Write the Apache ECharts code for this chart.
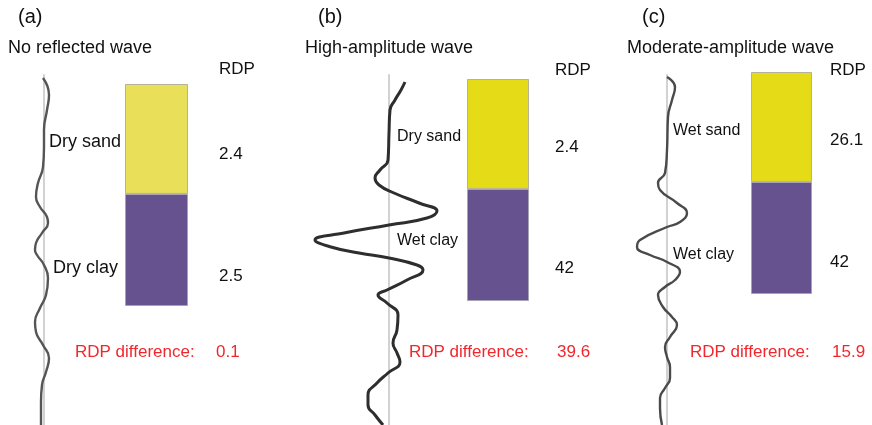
<!DOCTYPE html>
<html>
<head>
<meta charset="utf-8">
<script src="https://cdn.jsdelivr.net/npm/echarts@6/dist/echarts.min.js"></script>
<style>
html,body{margin:0;padding:0;background:#fff;}
#chart{width:872px;height:425px;}
</style>
</head>
<body>
<div id="chart"></div>
<script>
// ---- Data ----
var panelLetters = ['(a)', '(b)', '(c)'];
var panelTitles = ['No reflected wave', 'High-amplitude wave', 'Moderate-amplitude wave'];
var upperLayers = ['Dry sand', 'Dry sand', 'Wet sand'];
var lowerLayers = ['Dry clay', 'Wet clay', 'Wet clay'];
var upperRDP = ['2.4', '2.4', '26.1'];
var lowerRDP = ['2.5', '42', '42'];
var rdpDifference = ['0.1', '39.6', '15.9'];

// layer thickness (relative)
var sandThickness = [50, 50, 50];
var clayThickness = [51, 51, 51];

// Radar traces: two-way time (depth, relative units) and amplitude
var waveA_depth = [3, 20, 35, 55, 72, 92, 108, 122, 132, 142, 148, 158, 168, 175, 180, 190, 203, 220, 233, 247, 257, 270, 283, 297, 310, 327, 350];
var waveA_amp   = [-1, 5, 3, 0, 0, -1, -6, -8, -4, 3, 4, -2, -8, -9, -7, 0, 4, 2, -4, -9, -8, -1, 5, 2, -2, -3, -3];

var waveB_depth = [7, 15, 25, 35, 58, 85, 95, 103, 110, 118, 128, 136, 143, 150, 158, 165, 172, 178, 183, 190, 195, 205, 215, 220, 228, 240, 255, 268, 278, 287, 298, 308, 320, 330, 340, 350];
var waveB_amp   = [16, 12, 6, 1, 0, -1, -9, -14, -10, 5, 30, 48, 38, 0, -45, -74, -58, -30, 0, 28, 34, 18, -2, -11, -2, 9, 8, 4, 8, 11, -1, -12, -21, -21, -14, -6];

var waveC_depth = [2, 12, 25, 42, 75, 98, 108, 115, 128, 138, 147, 152, 165, 172, 180, 187, 197, 205, 212, 220, 232, 242, 250, 262, 272, 282, 292, 303, 313, 323, 333, 350];
var waveC_amp   = [0, 8, 5, 1, 0, -2, -9, -7, 10, 20, 13, 0, -27, -30, -17, 0, 13, 8, -2, -9, -4, 5, 10, 3, -2, 0, 3, 3, -2, -7, -7, -5];

// ---- Layout ----
var FONT = '"Liberation Sans", Arial, Helvetica, sans-serif';
var waveGrids = [
  {left: 4, width: 80, top: 75, height: 350, min: -40, max: 40, color: '#555', w: 2.4},
  {left: 309, width: 160, top: 75, height: 350, min: -80, max: 80, color: '#2e2e2e', w: 3},
  {left: 627, width: 80, top: 75, height: 350, min: -40, max: 40, color: '#4a4a4a', w: 2.4}
];
var barGrids = [
  {left: 125, width: 63, top: 84, height: 222, yellow: '#e9df58'},
  {left: 467, width: 62, top: 79, height: 222, yellow: '#e5dc17'},
  {left: 751, width: 61, top: 72, height: 222, yellow: '#e5dc17'}
];
var purple = '#66528f';
var waves = [[waveA_amp, waveA_depth], [waveB_amp, waveB_depth], [waveC_amp, waveC_depth]];

var grid = [], xAxis = [], yAxis = [], series = [];
for (var i = 0; i < 3; i++) {
  var g = waveGrids[i];
  grid.push({left: g.left, width: g.width, top: g.top, height: g.height, containLabel: false});
  xAxis.push({type: 'value', gridIndex: 2 * i, min: g.min, max: g.max, show: false});
  yAxis.push({type: 'value', gridIndex: 2 * i, min: 0, max: 350, inverse: true,
    axisLine: {show: true, onZero: true, lineStyle: {color: '#d2d2d2', width: 2}},
    axisTick: {show: false}, axisLabel: {show: false}, splitLine: {show: false}});
  var pts = waves[i][0].map(function (a, k) { return [a, waves[i][1][k]]; });
  series.push({type: 'line', xAxisIndex: 2 * i, yAxisIndex: 2 * i, data: pts, smooth: 0.5,
    showSymbol: false, lineStyle: {color: g.color, width: g.w}, silent: true});

  var b = barGrids[i];
  grid.push({left: b.left, width: b.width, top: b.top, height: b.height, containLabel: false});
  xAxis.push({type: 'category', gridIndex: 2 * i + 1, data: ['layers'], show: false});
  yAxis.push({type: 'value', gridIndex: 2 * i + 1, min: 0, max: sandThickness[i] + clayThickness[i], inverse: true, show: false});
  series.push({type: 'bar', xAxisIndex: 2 * i + 1, yAxisIndex: 2 * i + 1, stack: 's' + i, barWidth: '100%',
    data: [sandThickness[i]], itemStyle: {color: b.yellow, borderColor: '#b5b29a', borderWidth: 1}, silent: true});
  series.push({type: 'bar', xAxisIndex: 2 * i + 1, yAxisIndex: 2 * i + 1, stack: 's' + i, barWidth: '100%',
    data: [clayThickness[i]], itemStyle: {color: purple, borderColor: '#a6a3b3', borderWidth: 1}, silent: true});
}

// ---- Text ----
function txt(x, y, text, size, color) {
  return {type: 'text', x: x, y: y, silent: true,
    style: {text: text, font: size + 'px ' + FONT, fill: color || '#111',
      textAlign: 'left', textVerticalAlign: 'middle', verticalAlign: 'middle'}};
}
var letterX = [18, 318, 642];
var titleX = [8, 305, 627];
var rdpX = [219, 555, 830];
var rdpHeadY = [69, 70, 70];
var labelX = [[49, 53], [397, 397], [673, 673]];
var labelY = [[142, 268], [137, 241], [131, 255]];
var labelSize = [18, 16, 16];
var valY = [[154, 276], [147, 268], [140, 262]];
var diffX = [75, 409, 690];
var diffNumX = [216, 557, 832];

var graphic = [];
for (var j = 0; j < 3; j++) {
  graphic.push(txt(letterX[j], 17, panelLetters[j], 20));
  graphic.push(txt(titleX[j], 48, panelTitles[j], 18));
  graphic.push(txt(rdpX[j], rdpHeadY[j], 'RDP', 17));
  graphic.push(txt(labelX[j][0], labelY[j][0], upperLayers[j], labelSize[j]));
  graphic.push(txt(labelX[j][1], labelY[j][1], lowerLayers[j], labelSize[j]));
  graphic.push(txt(rdpX[j], valY[j][0], upperRDP[j], 17));
  graphic.push(txt(rdpX[j], valY[j][1], lowerRDP[j], 17));
  graphic.push(txt(diffX[j], 352, 'RDP difference:', 17, '#f0272c'));
  graphic.push(txt(diffNumX[j], 352, rdpDifference[j], 17, '#f0272c'));
}

var chart = echarts.init(document.getElementById('chart'), null, {renderer: 'canvas'});
chart.setOption({
  backgroundColor: '#fff',
  animation: false,
  grid: grid, xAxis: xAxis, yAxis: yAxis, series: series,
  graphic: graphic
});
</script>
</body>
</html>
